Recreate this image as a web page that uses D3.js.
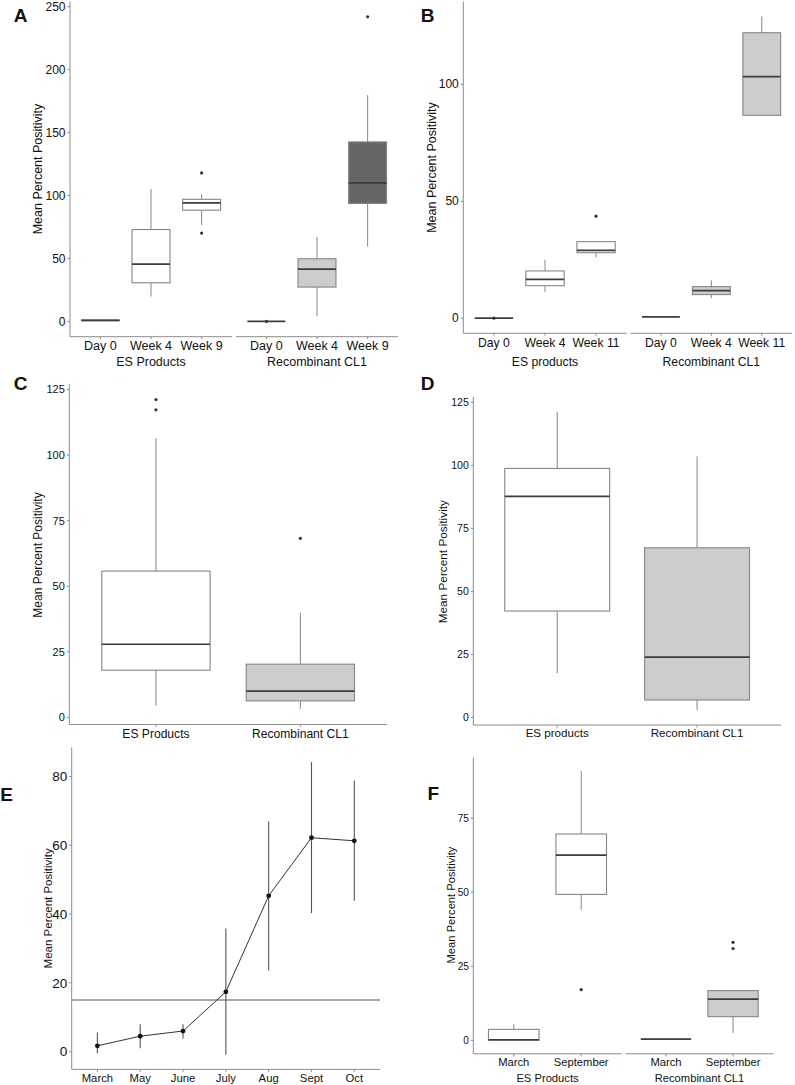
<!DOCTYPE html>
<html><head><meta charset="utf-8">
<script src="https://cdn.jsdelivr.net/npm/d3@7"></script>
<style>body{margin:0;background:#fff}text{font-family:"Liberation Sans",Arial,sans-serif;fill:#111}</style>
</head><body>
<script>
// ---------- DATA ----------
// box stats: [whiskerLow, q1, median, q3, whiskerHigh]
const facetNamesA = ["ES Products", "Recombinant CL1"];
const catsA = ["Day 0", "Week 4", "Week 9"];
const boxesA_ES = [[0.6,0.6,0.9,1.2,1.2],[19.8,30.7,45.5,73,105],[76.5,88.4,94.2,97,101]];
const outA_ES = [[],[],[70.2,118]];
const boxesA_CL1 = [[0,0,0,0,0],[4.3,27.3,41.6,49.8,67],[59.5,93.7,110,142.6,179.7]];
const outA_CL1 = [[0],[],[242]];
const fillA_ES = ["#ffffff","#ffffff","#ffffff"];
const fillA_CL1 = ["#cccccc","#cccccc","#666666"];
const ticksA = [0,50,100,150,200,250];

const facetNamesB = ["ES products", "Recombinant CL1"];
const catsB = ["Day 0", "Week 4", "Week 11"];
const boxesB_ES = [[0,0,0,0,0],[11.1,13.9,16.6,20.2,25],[26,28,29,32.7,32.7]];
const outB_ES = [[0],[],[43.6]];
const boxesB_CL1 = [[0.6,0.6,0.6,0.6,0.6],[8.5,10.1,11.8,13.5,16.2],[86.7,86.7,103.2,122,128.9]];
const outB_CL1 = [[],[],[]];
const ticksB = [0,50,100];

const catsC = ["ES Products", "Recombinant CL1"];
const boxesC = [[4.5,18,27.9,55.8,106.4],[3.2,6.3,10,20.3,39.9]];
const outC = [[117.3,121.2],[68.3]];
const ticksC = [0,25,50,75,100,125];

const catsD = ["ES products", "Recombinant CL1"];
const boxesD = [[17.5,42.2,87.7,98.8,121.3],[2.9,6.9,23.9,67.3,103.6]];
const outD = [[],[]];
const ticksD = [0,25,50,75,100,125];

const monthsE = ["March","May","June","July","Aug","Sept","Oct"];
const meanE = [1.7,4.5,6.0,17.4,45.3,62.2,61.3];
const lowE = [-0.5,1.0,3.8,-0.9,23.6,40.3,43.9];
const highE = [5.6,8.0,8.0,35.8,67,84.2,78.8];
const thresholdE = 15;
const ticksE = [0,20,40,60,80];

const facetNamesF = ["ES Products", "Recombinant CL1"];
const catsF = ["March", "September"];
const boxesF_ES = [[0,0,0.2,3.7,5.4],[44.1,49.3,62.6,69.7,91]];
const outF_ES = [[],[17.1]];
const boxesF_CL1 = [[0.4,0.4,0.4,0.4,0.4],[2.5,8,13.9,16.8,17]];
const outF_CL1 = [[],[31,33.1]];
const ticksF = [0,25,50,75];

// ---------- DRAW ----------
const svg = d3.select("body").append("svg").attr("width",795).attr("height",1085);
const AX = "#8c8c8c", BOX = "#858585", MED = "#3c3c3c";

function yDomain(vals){
  const lo = d3.min(vals), hi = d3.max(vals), r = hi - lo;
  return [lo - 0.05*r, hi + 0.05*r];
}
function yAxis(g, y, ax, ticks, fs){
  const r = y.range();
  g.append("line").attr("x1",ax).attr("x2",ax).attr("y1",r[0]).attr("y2",r[1]).attr("stroke",AX).attr("stroke-width",1);
  ticks.forEach(t=>{
    g.append("line").attr("x1",ax-2.5).attr("x2",ax).attr("y1",y(t)).attr("y2",y(t)).attr("stroke",AX);
    g.append("text").attr("x",ax-4.5).attr("y",y(t)).attr("dy","0.35em").attr("text-anchor","end").attr("font-size",fs).text(t);
  });
}
function yTitle(cx, cy, fs){
  svg.append("text").attr("transform",`translate(${cx},${cy}) rotate(-90)`).attr("text-anchor","middle").attr("dy","0.35em").attr("font-size",fs).text("Mean Percent Positivity");
}
function letter(t, x, y){
  svg.append("text").attr("x",x).attr("y",y).attr("dy","0.36em").attr("text-anchor","middle").attr("font-size",19).attr("font-weight","bold").attr("fill","#000").text(t);
}
function facet(g, y, x0, x1, cats, boxes, outs, fills, tickFs, tickY, label, labelFs, labelY){
  const x = d3.scalePoint().domain(cats).range([x0,x1]).padding(0.6);
  const bw = x.step()*0.75;
  const yb = y.range()[0];
  g.append("line").attr("x1",x0).attr("x2",x1).attr("y1",yb).attr("y2",yb).attr("stroke",AX);
  cats.forEach((c,i)=>{
    const b = boxes[i], cx = x(c);
    g.append("line").attr("x1",cx).attr("x2",cx).attr("y1",yb).attr("y2",yb+2.5).attr("stroke",AX);
    g.append("text").attr("x",cx).attr("y",tickY).attr("dy","0.35em").attr("text-anchor","middle").attr("font-size",tickFs).text(c);
    g.append("line").attr("x1",cx).attr("x2",cx).attr("y1",y(b[0])).attr("y2",y(b[1])).attr("stroke",BOX);
    g.append("line").attr("x1",cx).attr("x2",cx).attr("y1",y(b[3])).attr("y2",y(b[4])).attr("stroke",BOX);
    g.append("rect").attr("x",cx-bw/2).attr("width",bw).attr("y",y(b[3])).attr("height",Math.max(0,y(b[1])-y(b[3])))
      .attr("fill",fills[i]).attr("stroke",BOX).attr("stroke-width",1.1);
    g.append("line").attr("x1",cx-bw/2).attr("x2",cx+bw/2).attr("y1",y(b[2])).attr("y2",y(b[2])).attr("stroke",MED).attr("stroke-width",1.7);
    (outs[i]||[]).forEach(o=>{
      g.append("circle").attr("cx",cx).attr("cy",y(o)).attr("r",1.6).attr("fill","#333");
    });
  });
  if(label) g.append("text").attr("x",(x0+x1)/2).attr("y",labelY).attr("dy","0.35em").attr("text-anchor","middle").attr("font-size",labelFs).text(label);
}
function allVals(boxes, outs){ return boxes.flat().concat(outs.flat()); }

// Panel A
{
  const g = svg.append("g");
  const y = d3.scaleLinear().domain(yDomain(allVals(boxesA_ES,outA_ES).concat(allVals(boxesA_CL1,outA_CL1)))).range([336.7,1.5]);
  facet(g,y,70,232,catsA,boxesA_ES,outA_ES,fillA_ES,12.5,345.7,facetNamesA[0],12.5,362);
  facet(g,y,236,398,catsA,boxesA_CL1,outA_CL1,fillA_CL1,12.5,345.7,facetNamesA[1],12.5,362);
  yAxis(g,y,70,ticksA,12);
  yTitle(37.5,169,12.5);
  letter("A",20.7,15);
}
// Panel B
{
  const g = svg.append("g");
  const y = d3.scaleLinear().domain(yDomain(allVals(boxesB_ES,outB_ES).concat(allVals(boxesB_CL1,outB_CL1)))).range([333.3,1.5]);
  facet(g,y,463.3,626.7,catsB,boxesB_ES,outB_ES,["#fff","#fff","#fff"],12.2,342.5,facetNamesB[0],12.2,362);
  facet(g,y,630.7,792,catsB,boxesB_CL1,outB_CL1,["#cccccc","#cccccc","#cccccc"],12.2,342.5,facetNamesB[1],12.2,362);
  yAxis(g,y,463.3,ticksB,12);
  yTitle(431.5,167.5,12.5);
  letter("B",427.7,15);
}
// Panel C
{
  const g = svg.append("g");
  const y = d3.scaleLinear().domain(yDomain(allVals(boxesC,outC))).range([724.5,384.1]);
  facet(g,y,69.3,387,catsC,boxesC,outC,["#fff","#cccccc"],12.1,733.3,null);
  yAxis(g,y,69.3,ticksC,11);
  yTitle(37.5,555,12);
  letter("C",20.7,383.3);
}
// Panel D
{
  const g = svg.append("g");
  const y = d3.scaleLinear().domain(yDomain(allVals(boxesD,outD))).range([725,396.8]);
  facet(g,y,473.3,781,catsD,boxesD,outD,["#fff","#cccccc"],11.6,733.3,null);
  yAxis(g,y,473.3,ticksD,10.5);
  yTitle(443,561.7,11.8);
  letter("D",427.7,382.7);
}
// Panel E
{
  const g = svg.append("g");
  const y = d3.scaleLinear().domain(yDomain(lowE.concat(highE))).range([1069.4,747.4]);
  const x = d3.scalePoint().domain(monthsE).range([71.7,380]).padding(0.6);
  const yb = y.range()[0];
  g.append("line").attr("x1",71.7).attr("x2",380).attr("y1",yb).attr("y2",yb).attr("stroke",AX);
  monthsE.forEach(m=>{
    g.append("line").attr("x1",x(m)).attr("x2",x(m)).attr("y1",yb).attr("y2",yb+2.5).attr("stroke",AX);
    g.append("text").attr("x",x(m)).attr("y",1077.7).attr("dy","0.35em").attr("text-anchor","middle").attr("font-size",11.3).text(m);
  });
  g.append("line").attr("x1",71.7).attr("x2",380).attr("y1",y(thresholdE)).attr("y2",y(thresholdE)).attr("stroke","#555").attr("stroke-width",1.1);
  monthsE.forEach((m,i)=>{
    g.append("line").attr("x1",x(m)).attr("x2",x(m)).attr("y1",y(lowE[i])).attr("y2",y(highE[i])).attr("stroke","#555").attr("stroke-width",1.1);
  });
  g.append("path").datum(meanE).attr("fill","none").attr("stroke","#333").attr("stroke-width",1)
    .attr("d",d3.line().x((d,i)=>x(monthsE[i])).y(d=>y(d)));
  meanE.forEach((v,i)=>g.append("circle").attr("cx",x(monthsE[i])).attr("cy",y(v)).attr("r",2.4).attr("fill","#111"));
  yAxis(g,y,71.7,ticksE,13.5);
  yTitle(48,908.3,11.5);
  letter("E",6.5,794.3);
}
// Panel F
{
  const g = svg.append("g");
  const y = d3.scaleLinear().domain(yDomain(allVals(boxesF_ES,outF_ES).concat(allVals(boxesF_CL1,outF_CL1)))).range([1053.8,757.5]);
  facet(g,y,473.3,621.7,catsF,boxesF_ES,outF_ES,["#fff","#fff"],11.2,1061.7,facetNamesF[0],11.2,1077.7);
  facet(g,y,625.7,773.3,catsF,boxesF_CL1,outF_CL1,["#cccccc","#cccccc"],11.2,1061.7,facetNamesF[1],11.2,1077.7);
  yAxis(g,y,473.3,ticksF,10);
  yTitle(451,905,11.2);
  letter("F",433.3,793.3);
}
</script>
</body></html>
